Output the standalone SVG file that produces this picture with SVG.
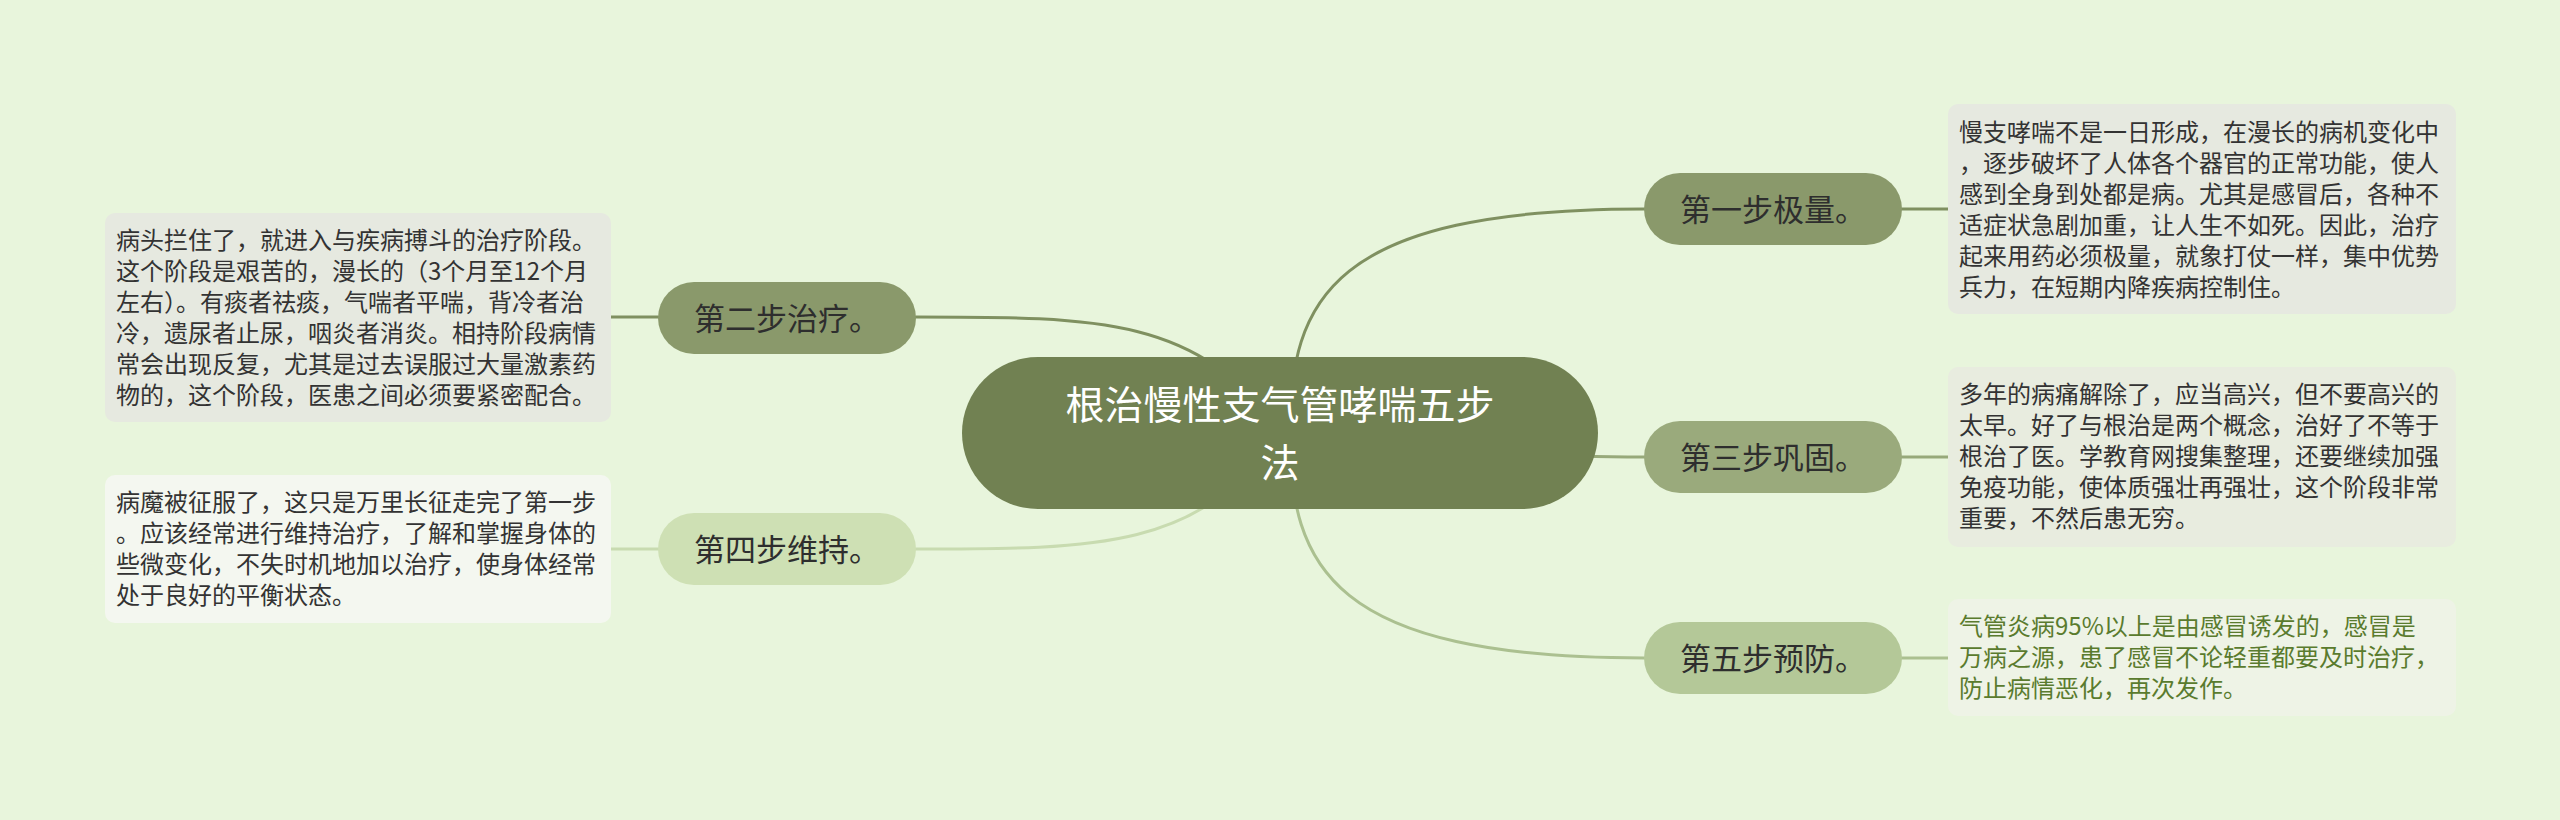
<svg xmlns="http://www.w3.org/2000/svg" width="2560" height="820" viewBox="0 0 2560 820">
<style>
text{font-family:"Noto Sans CJK SC","Noto Sans",sans-serif;}
.conn{fill:none;stroke-width:3;stroke-linecap:round;}
.main{fill:#ffffff;font-size:39px;text-anchor:middle;}
.lbl{fill:#2e2e2e;font-size:31px;text-anchor:middle;}
.para{fill:#333333;font-size:24px;}
.green{fill:#5a7b2e;}
</style>
<rect x="0" y="0" width="2560" height="820" fill="#e8f5dc"/>
<g id="connectors">
<path class="conn" stroke="#7f9060" d="M1290 433 C1290 300 1330 209 1644 209"/>
<path class="conn" stroke="#97a97a" d="M1290 433 C1450 433 1450 457 1644 457"/>
<path class="conn" stroke="#abc090" d="M1290 433 C1290 566 1330 658 1644 658"/>
<path class="conn" stroke="#7f9060" d="M916 317 C1100 317 1200 317 1280 433"/>
<path class="conn" stroke="#c8dbb0" d="M916 549 C1100 549 1200 549 1280 433"/>
<path class="conn" stroke="#7f9060" d="M1902 209 L1948 209"/>
<path class="conn" stroke="#97a97a" d="M1902 457 L1948 457"/>
<path class="conn" stroke="#abc090" d="M1902 658 L1948 658"/>
<path class="conn" stroke="#7f9060" d="M611 317 L658 317"/>
<path class="conn" stroke="#c8dbb0" d="M611 549 L658 549"/>
</g>
<g id="center">
<rect x="962" y="357" width="636" height="152" rx="76" fill="#718152"/>
<text class="main" x="1280" y="419">根治慢性支气管哮喘五步</text>
<text class="main" x="1280" y="477">法</text>
</g>
<g id="step1">
<rect x="1644" y="173" width="258" height="72" rx="36" fill="#8a996b"/>
<text class="lbl" x="1773" y="221">第一步极量。</text>
</g>
<g id="step1-note">
<rect x="1948" y="104" width="508" height="210" rx="10" fill="#e6e9e0"/>
<text class="para" x="1959" y="141">慢支哮喘不是一日形成，在漫长的病机变化中</text>
<text class="para" x="1959" y="172">，逐步破坏了人体各个器官的正常功能，使人</text>
<text class="para" x="1959" y="203">感到全身到处都是病。尤其是感冒后，各种不</text>
<text class="para" x="1959" y="234">适症状急剧加重，让人生不如死。因此，治疗</text>
<text class="para" x="1959" y="265">起来用药必须极量，就象打仗一样，集中优势</text>
<text class="para" x="1959" y="296">兵力，在短期内降疾病控制住。</text>
</g>
<g id="step3">
<rect x="1644" y="421" width="258" height="72" rx="36" fill="#9aaa7c"/>
<text class="lbl" x="1773" y="469">第三步巩固。</text>
</g>
<g id="step3-note">
<rect x="1948" y="367" width="508" height="180" rx="10" fill="#e8ecdf"/>
<text class="para" x="1959" y="403">多年的病痛解除了，应当高兴，但不要高兴的</text>
<text class="para" x="1959" y="434">太早。好了与根治是两个概念，治好了不等于</text>
<text class="para" x="1959" y="465">根治了医。学教育网搜集整理，还要继续加强</text>
<text class="para" x="1959" y="496">免疫功能，使体质强壮再强壮，这个阶段非常</text>
<text class="para" x="1959" y="527">重要，不然后患无穷。</text>
</g>
<g id="step5">
<rect x="1644" y="622" width="258" height="72" rx="36" fill="#b4c898"/>
<text class="lbl" x="1773" y="670">第五步预防。</text>
</g>
<g id="step5-note">
<rect x="1948" y="599" width="508" height="117" rx="10" fill="#eef3e6"/>
<text class="para green" x="1959" y="635">气管炎病95%以上是由感冒诱发的，感冒是</text>
<text class="para green" x="1959" y="666">万病之源，患了感冒不论轻重都要及时治疗，</text>
<text class="para green" x="1959" y="697">防止病情恶化，再次发作。</text>
</g>
<g id="step2">
<rect x="658" y="282" width="258" height="72" rx="36" fill="#8a996b"/>
<text class="lbl" x="787" y="330">第二步治疗。</text>
</g>
<g id="step2-note">
<rect x="105" y="213" width="506" height="209" rx="10" fill="#e6e9e0"/>
<text class="para" x="116" y="249">病头拦住了，就进入与疾病搏斗的治疗阶段。</text>
<text class="para" x="116" y="280">这个阶段是艰苦的，漫长的（3个月至12个月</text>
<text class="para" x="116" y="311">左右）。有痰者祛痰，气喘者平喘，背冷者治</text>
<text class="para" x="116" y="342">冷，遗尿者止尿，咽炎者消炎。相持阶段病情</text>
<text class="para" x="116" y="373">常会出现反复，尤其是过去误服过大量激素药</text>
<text class="para" x="116" y="404">物的，这个阶段，医患之间必须要紧密配合。</text>
</g>
<g id="step4">
<rect x="658" y="513" width="258" height="72" rx="36" fill="#cee0b4"/>
<text class="lbl" x="787" y="561">第四步维持。</text>
</g>
<g id="step4-note">
<rect x="105" y="475" width="506" height="148" rx="10" fill="#f4f7f0"/>
<text class="para" x="116" y="511">病魔被征服了，这只是万里长征走完了第一步</text>
<text class="para" x="116" y="542">。应该经常进行维持治疗，了解和掌握身体的</text>
<text class="para" x="116" y="573">些微变化，不失时机地加以治疗，使身体经常</text>
<text class="para" x="116" y="604">处于良好的平衡状态。</text>
</g>
</svg>
